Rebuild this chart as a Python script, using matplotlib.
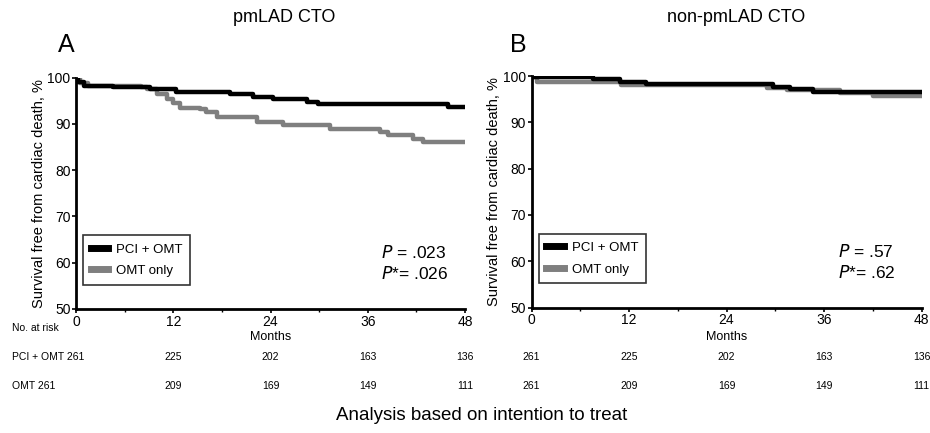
import matplotlib.pyplot as plt
from matplotlib.transforms import blended_transform_factory
from matplotlib.lines import Line2D

# step-curve data (months, survival %)
a_pci_t = [0, 0.3, 1.0, 4.6, 9.1, 12.4, 19.0, 21.9, 24.3, 28.5, 29.9, 45.9, 48]
a_pci_s = [100, 99.1, 98.2, 97.9, 97.5, 97.0, 96.4, 95.9, 95.5, 94.8, 94.3, 93.7, 93.7]
a_omt_t = [0, 0.5, 1.5, 8.0, 8.7, 10.0, 11.2, 12.0, 12.8, 15.3, 16.1, 17.4, 22.3, 25.6, 31.3, 37.5, 38.5, 41.6, 42.8, 48]
a_omt_s = [100, 98.8, 98.3, 98.0, 97.5, 96.5, 95.5, 94.5, 93.5, 93.2, 92.5, 91.5, 90.5, 89.8, 89.0, 88.3, 87.7, 86.8, 86.0, 86.0]

b_pci_t = [0, 7.6, 10.9, 14.1, 29.7, 31.8, 34.6, 48]
b_pci_s = [99.7, 99.4, 98.8, 98.2, 97.6, 97.1, 96.6, 96.6]
b_omt_t = [0, 0.7, 11.0, 29.0, 31.5, 38.0, 42.0, 48]
b_omt_s = [99.7, 98.8, 98.0, 97.5, 96.9, 96.3, 95.6, 95.6]

risk_months = [0, 12, 24, 36, 48]
risk_pci = [261, 225, 202, 163, 136]
risk_omt = [261, 209, 169, 149, 111]

panels = [
    dict(title="pmLAD CTO", letter="A", pci=(a_pci_t, a_pci_s), omt=(a_omt_t, a_omt_s),
         p1=".023", p2=".026", left=76, right=465, top=77.7, bottom=309, lbl=True,
         tx=284, lx=58),
    dict(title="non-pmLAD CTO", letter="B", pci=(b_pci_t, b_pci_s), omt=(b_omt_t, b_omt_s),
         p1=".57", p2=".62", left=531.5, right=921.5, top=76, bottom=307.5, lbl=False,
         tx=736, lx=510),
]

W, H = 930, 433
fig = plt.figure(figsize=(W / 100, H / 100), dpi=100)
plt.rcParams['font.family'] = 'Liberation Sans'

for p in panels:
    ax = fig.add_axes([p["left"] / W, (H - p["bottom"]) / H,
                       (p["right"] - p["left"]) / W, (p["bottom"] - p["top"]) / H])
    ax.step(p["omt"][0], p["omt"][1], where='post', color='#7f7f7f', lw=3.2)
    ax.step(p["pci"][0], p["pci"][1], where='post', color='black', lw=3.2)
    ax.set_xlim(0, 48)
    ax.set_ylim(50, 100)
    ax.set_xticks([0, 12, 24, 36, 48])
    ax.set_xticks([6, 18, 30, 42], minor=True)
    ax.set_yticks([50, 60, 70, 80, 90, 100])
    ax.tick_params(labelsize=10, length=3, width=1.2, pad=1)
    ax.tick_params(which='minor', length=2, width=1)
    for s in ['top', 'right']:
        ax.spines[s].set_visible(False)
    for s in ['left', 'bottom']:
        ax.spines[s].set_linewidth(2)
    ax.set_ylabel("Survival free from cardiac death, %", fontsize=10.5, labelpad=1)

    handles = [Line2D([], [], color='black', lw=5), Line2D([], [], color='#7f7f7f', lw=5)]
    leg = ax.legend(handles, ["PCI + OMT", "OMT only"], loc='lower left',
                    bbox_to_anchor=(0.018, 0.104), borderaxespad=0, fontsize=9.5,
                    frameon=True, fancybox=False, handlelength=1.3, handletextpad=0.6,
                    borderpad=0.6, labelspacing=0.7)
    leg.get_frame().set_edgecolor('black')
    leg.get_frame().set_linewidth(1.2)

    ax.text(0.785, 0.243, r"$P$ = " + p["p1"], transform=ax.transAxes, fontsize=12.5, va='center')
    ax.text(0.785, 0.152, r"$P$*= " + p["p2"], transform=ax.transAxes, fontsize=12.5, va='center')

    fig.text(p["tx"] / W, 1 - 18 / H, p["title"], ha='center', va='center', fontsize=13)
    fig.text(p["lx"] / W, 1 - 45 / H, p["letter"], ha='left', va='center', fontsize=18)

    tr = blended_transform_factory(ax.transData, fig.transFigure)
    ax.text(24, 1 - 337 / H, "Months", transform=tr, ha='center', va='center', fontsize=9)
    for i, m in enumerate(risk_months):
        if p["lbl"] and i == 0:
            fig.text(12 / W, 1 - 357 / H, "PCI + OMT %d" % risk_pci[i], ha='left', va='center', fontsize=7.5)
            fig.text(12 / W, 1 - 386 / H, "OMT %d" % risk_omt[i], ha='left', va='center', fontsize=7.5)
            continue
        ax.text(m, 1 - 357 / H, str(risk_pci[i]), transform=tr, ha='center', va='center', fontsize=7.5)
        ax.text(m, 1 - 386 / H, str(risk_omt[i]), transform=tr, ha='center', va='center', fontsize=7.5)

fig.text(12 / W, 1 - 328 / H, "No. at risk", ha='left', va='center', fontsize=7.5)
fig.text(482 / W, 1 - 416 / H, "Analysis based on intention to treat", ha='center', va='center', fontsize=13.5)

fig.savefig("out.png", dpi=100)
